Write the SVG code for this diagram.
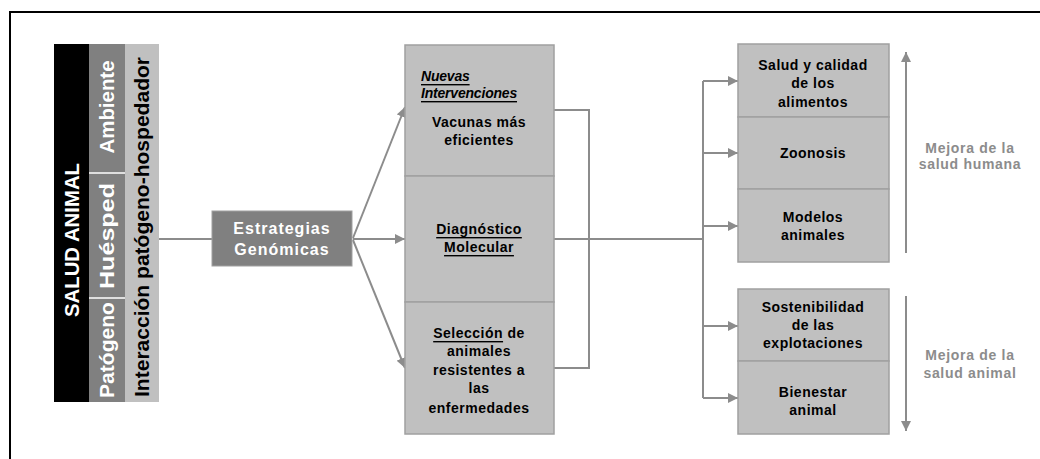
<svg xmlns="http://www.w3.org/2000/svg" width="1040" height="459" viewBox="0 0 1040 459">
<style>
.t{font-family:"Liberation Sans",Arial,sans-serif;font-weight:bold;font-size:14px;fill:#000;text-anchor:middle;dominant-baseline:central;letter-spacing:0.5px}
.w{fill:#fff}
.g{fill:#8c8c8c;letter-spacing:0.7px}
.box{fill:#c0c0c0;stroke:#a0a0a0;stroke-width:1.5}
.ln{fill:none;stroke:#8c8c8c;stroke-width:2}
.r{font-size:20px;letter-spacing:0}
.e{font-size:16px;letter-spacing:1px}
.n{font-size:14px;font-style:italic;text-decoration:underline;text-anchor:start;letter-spacing:-0.2px}
</style>
<defs>
<marker id="ah" viewBox="0 0 10 10" refX="10" refY="5" markerWidth="10" markerHeight="10" markerUnits="userSpaceOnUse" orient="auto">
<path d="M0,0 L10,5 L0,10 z" fill="#8c8c8c"/>
</marker>
</defs>
<rect width="1040" height="459" fill="#fff"/>
<path d="M10,459 V12 H1040" fill="none" stroke="#000" stroke-width="2"/>

<g id="left-bar">
<rect x="54" y="44" width="35" height="358" fill="#000"/>
<rect x="89" y="44" width="36" height="358" fill="#808080"/>
<rect x="125" y="44" width="34" height="358" fill="#c0c0c0"/>
<line x1="89" y1="173" x2="125" y2="173" stroke="#fff" stroke-width="1.5"/>
<line x1="89" y1="298" x2="125" y2="298" stroke="#fff" stroke-width="1.5"/>
<text class="t w r" transform="translate(72,240) rotate(-90)" textLength="154" lengthAdjust="spacingAndGlyphs">SALUD ANIMAL</text>
<text class="t w r" transform="translate(107,107) rotate(-90)" textLength="93" lengthAdjust="spacingAndGlyphs">Ambiente</text>
<text class="t w r" transform="translate(107,236) rotate(-90)" textLength="106" lengthAdjust="spacingAndGlyphs">Huésped</text>
<text class="t w r" transform="translate(107,350) rotate(-90)" textLength="96" lengthAdjust="spacingAndGlyphs">Patógeno</text>
<text class="t r" transform="translate(142,227) rotate(-90)" textLength="340" lengthAdjust="spacingAndGlyphs">Interacción patógeno-hospedador</text>
</g>

<g id="connectors">
<line class="ln" x1="159" y1="239" x2="212" y2="239"/>
<line class="ln" x1="353" y1="238" x2="405" y2="107" marker-end="url(#ah)"/>
<line class="ln" x1="353" y1="239" x2="405" y2="239" marker-end="url(#ah)"/>
<line class="ln" x1="353" y1="240" x2="405" y2="368" marker-end="url(#ah)"/>
<path class="ln" d="M554,110 H589 V368 H554"/>
<line class="ln" x1="554" y1="239" x2="703" y2="239"/>
<line class="ln" x1="703" y1="81" x2="703" y2="398"/>
<line class="ln" x1="703" y1="81" x2="738" y2="81" marker-end="url(#ah)"/>
<line class="ln" x1="703" y1="153" x2="738" y2="153" marker-end="url(#ah)"/>
<line class="ln" x1="703" y1="226" x2="738" y2="226" marker-end="url(#ah)"/>
<line class="ln" x1="703" y1="326" x2="738" y2="326" marker-end="url(#ah)"/>
<line class="ln" x1="703" y1="398" x2="738" y2="398" marker-end="url(#ah)"/>
<line class="ln" x1="906" y1="253" x2="906" y2="52" marker-end="url(#ah)"/>
<line class="ln" x1="906" y1="296" x2="906" y2="431" marker-end="url(#ah)"/>
</g>

<g id="estrategias">
<rect x="212" y="211" width="140" height="55" fill="#808080" stroke="#a0a0a0" stroke-width="1"/>
<text class="t w e" x="282" y="228">Estrategias</text>
<text class="t w e" x="282" y="249">Genómicas</text>
</g>

<g id="nuevas-intervenciones">
<rect class="box" x="405" y="45" width="149" height="131"/>
<text class="t n" x="421" y="76">Nuevas</text>
<text class="t n" x="421" y="93">Intervenciones</text>
<text class="t" x="479" y="122">Vacunas más</text>
<text class="t" x="479" y="140">eficientes</text>
</g>

<g id="diagnostico">
<rect class="box" x="405" y="176" width="149" height="126"/>
<text class="t" x="479" y="229" text-decoration="underline">Diagnóstico</text>
<text class="t" x="479" y="247" text-decoration="underline">Molecular</text>
</g>

<g id="seleccion">
<rect class="box" x="405" y="302" width="149" height="132"/>
<text class="t" x="479" y="333"><tspan text-decoration="underline">Selección</tspan> de</text>
<text class="t" x="479" y="351">animales</text>
<text class="t" x="479" y="370">resistentes a</text>
<text class="t" x="479" y="388">las</text>
<text class="t" x="479" y="408">enfermedades</text>
</g>

<g id="salud-calidad">
<rect class="box" x="738" y="44" width="151" height="73"/>
<text class="t" x="813" y="65">Salud y calidad</text>
<text class="t" x="813" y="83">de los</text>
<text class="t" x="813" y="102">alimentos</text>
</g>
<g id="zoonosis">
<rect class="box" x="738" y="117" width="151" height="72"/>
<text class="t" x="813" y="153">Zoonosis</text>
</g>
<g id="modelos">
<rect class="box" x="738" y="189" width="151" height="73"/>
<text class="t" x="813" y="217">Modelos</text>
<text class="t" x="813" y="235">animales</text>
</g>
<g id="sostenibilidad">
<rect class="box" x="738" y="289" width="151" height="72"/>
<text class="t" x="813" y="307">Sostenibilidad</text>
<text class="t" x="813" y="325">de las</text>
<text class="t" x="813" y="343">explotaciones</text>
</g>
<g id="bienestar">
<rect class="box" x="738" y="361" width="151" height="73"/>
<text class="t" x="813" y="392">Bienestar</text>
<text class="t" x="813" y="410">animal</text>
</g>

<g id="mejora-humana">
<text class="t g" x="970" y="148">Mejora de la</text>
<text class="t g" x="970" y="164">salud humana</text>
</g>
<g id="mejora-animal">
<text class="t g" x="970" y="355">Mejora de la</text>
<text class="t g" x="970" y="373">salud animal</text>
</g>
</svg>
